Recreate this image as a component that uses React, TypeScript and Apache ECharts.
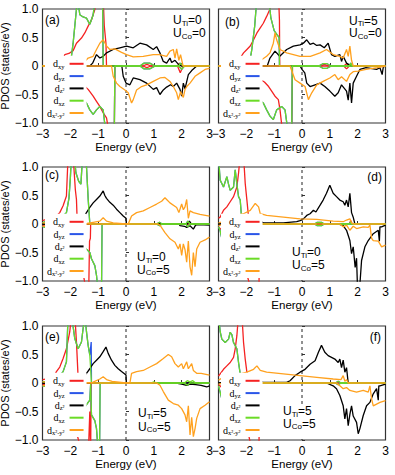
import React, { useEffect, useRef } from 'react';
import * as echarts from 'echarts';

// ---------- data: [energy (eV), PDOS (states/eV)] ----------
// panel (a)  U_Ti=0, U_Co=0
const A_DXY_UP = [[-3,0],[-2.32,0],[-2.2,0.2],[-2.05,0.22],[-1.9,0.27],[-1.78,0.4],[-1.6,0.49],[-1.48,0.58],[-1.36,0.7],[-1.24,0.81],[-1.12,0.99],[-1.05,1.2],[-0.82,1.2],[-0.78,0.7],[-0.72,0.4],[-0.7,0],[0.6,0],[0.75,0.03],[0.9,0],[1.85,0],[1.92,0.05],[2.0,0],[3,0]];
const A_DXY_DN = [[-3,0],[-1.98,0],[-1.9,-0.18],[-1.7,-0.24],[-1.54,-0.33],[-1.36,-0.41],[-1.18,-0.53],[-1.06,-0.62],[-0.94,-0.71],[-0.82,-0.82],[-0.7,-0.91],[-0.6,-1.2],[-0.42,-1.2],[-0.4,0],[0.6,0],[0.75,-0.03],[0.9,0],[1.85,0],[1.95,-0.12],[2.05,0],[3,0]];
const A_DXZ_UP = [[-3,0],[-2.0,0],[-1.96,0.17],[-1.9,0.4],[-1.84,0.7],[-1.78,1.0],[-1.74,1.2],[-1.66,0.9],[-1.54,0.86],[-1.42,0.84],[-1.3,0.73],[-1.18,0.9],[-1.1,1.2],[-0.84,1.2],[-0.82,0],[0.5,0],[0.65,0.05],[0.85,0.05],[1.05,0],[1.9,0],[1.95,0.05],[2.05,0],[3,0]];
const A_DXZ_DN = [[-3,0],[-2.0,0],[-1.94,-0.24],[-1.84,-0.41],[-1.7,-0.53],[-1.54,-0.59],[-1.42,-0.65],[-1.3,-0.77],[-1.18,-0.85],[-1.06,-0.77],[-0.94,-0.71],[-0.82,-0.77],[-0.72,-1.2],[-0.42,-1.2],[-0.4,0],[0.5,0],[0.65,-0.05],[0.85,-0.05],[1.05,0],[1.9,0],[2.0,-0.06],[2.1,0],[3,0]];
const A_DZ2_UP = [[-3,0],[-1.3,0],[-1.2,0.05],[-1.06,0.2],[-0.94,0.14],[-0.82,0.17],[-0.7,0.23],[-0.46,0.29],[-0.22,0.32],[0.02,0.35],[0.26,0.32],[0.5,0.4],[0.74,0.37],[0.98,0.29],[1.1,0.34],[1.22,0.23],[1.34,0.08],[1.46,0.05],[1.58,0.14],[1.64,0.06],[1.76,0.1],[1.9,0.02],[2.0,0],[3,0]];
const A_DZ2_DN = [[-3,0],[-0.15,0],[-0.1,-0.18],[0,-0.3],[0.14,-0.33],[0.26,-0.21],[0.5,-0.24],[0.74,-0.3],[0.98,-0.41],[1.1,-0.38],[1.22,-0.5],[1.34,-0.42],[1.46,-0.37],[1.6,-0.33],[1.7,-0.36],[1.82,-0.3],[1.94,-0.41],[2.0,-0.53],[2.06,-0.3],[2.12,-0.4],[2.24,-0.15],[2.36,-0.08],[2.54,0],[3,0]];
const A_DX2_UP = [[-3,0],[-1.6,0],[-1.48,0.08],[-1.36,0.14],[-1.18,0.17],[-1.06,0.29],[-0.94,0.4],[-0.82,0.46],[-0.7,0.35],[-0.58,0.29],[-0.4,0.3],[-0.16,0.24],[0.02,0.2],[0.26,0.16],[0.62,0.17],[0.98,0.2],[1.2,0.2],[1.46,0.17],[1.58,0.26],[1.7,0.29],[1.76,0.14],[1.82,0.3],[1.9,0.1],[1.96,0.2],[2.05,0],[3,0]];
const A_DX2_DN = [[-3,0],[-0.52,0],[-0.46,-0.18],[-0.34,-0.3],[-0.22,-0.36],[-0.04,-0.42],[0.08,-0.47],[0.2,-0.65],[0.26,-0.59],[0.38,-0.42],[0.56,-0.36],[0.74,-0.33],[0.98,-0.27],[1.22,-0.21],[1.4,-0.2],[1.58,-0.27],[1.7,-0.36],[1.82,-0.47],[1.88,-0.59],[1.96,-0.45],[2.06,-0.55],[2.12,-0.41],[2.2,-0.35],[2.3,-0.3],[2.48,-0.18],[2.66,-0.12],[2.84,-0.06],[3,-0.04]];

// panel (b)  U_Ti=5, U_Co=0
const B_DXY_UP = [[-3,0],[-2.34,0],[-2.22,0.14],[-2.1,0.23],[-1.98,0.29],[-1.86,0.35],[-1.74,0.46],[-1.62,0.58],[-1.5,0.67],[-1.39,0.75],[-1.27,0.87],[-1.15,1.0],[-1.1,1.2],[-0.84,1.2],[-0.81,0.8],[-0.8,0],[0.7,0],[0.8,0.03],[0.95,0],[1.5,0],[1.6,0.04],[1.7,0],[3,0]];
const B_DXY_DN = [[-3,0],[-1.86,0],[-1.8,-0.1],[-1.74,-0.15],[-1.5,-0.24],[-1.35,-0.28],[-1.2,-0.36],[-1.09,-0.44],[-0.97,-0.53],[-0.85,-0.59],[-0.79,-0.77],[-0.69,-1.2],[-0.37,-1.2],[-0.34,0],[1.5,0],[1.6,-0.05],[1.7,0],[3,0]];
const B_DXZ_UP = [[-3,0],[-1.9,0],[-1.8,0.3],[-1.7,0.7],[-1.62,1.2],[-1.2,1.2],[-1.12,0.85],[-1.0,0.62],[-0.9,0.55],[-0.82,0.5],[-0.81,0],[0.6,0],[0.75,0.04],[0.9,0.04],[1.05,0],[1.7,0],[1.75,0.05],[1.8,0],[3,0]];
const B_DXZ_DN = [[-3,0],[-1.98,0],[-1.92,-0.24],[-1.86,-0.41],[-1.74,-0.53],[-1.57,-0.59],[-1.39,-0.65],[-1.27,-0.77],[-1.15,-0.88],[-1.03,-0.94],[-0.91,-0.77],[-0.73,-0.71],[-0.61,-0.77],[-0.49,-1.2],[-0.37,-1.2],[-0.35,0],[0.6,0],[0.75,-0.04],[0.9,-0.04],[1.05,0],[3,0]];
const B_DZ2_UP = [[-3,0],[-1.25,0],[-1.15,0.14],[-0.97,0.26],[-0.8,0.17],[-0.55,0.29],[-0.31,0.35],[-0.07,0.37],[0.05,0.4],[0.17,0.46],[0.29,0.38],[0.41,0.4],[0.53,0.36],[0.65,0.37],[0.8,0.32],[0.94,0.4],[1.06,0.2],[1.18,0.17],[1.36,0.2],[1.42,0.08],[1.48,0.17],[1.6,0.05],[1.7,0.02],[1.8,0],[3,0]];
const B_DZ2_DN = [[-3,0],[-0.07,0],[0,-0.06],[0.1,-0.12],[0.17,-0.3],[0.29,-0.36],[0.47,-0.33],[0.65,-0.3],[0.82,-0.36],[1.0,-0.44],[1.18,-0.53],[1.3,-0.47],[1.42,-0.33],[1.6,-0.44],[1.66,-0.6],[1.72,-0.3],[1.78,-0.65],[1.84,-0.3],[1.96,-0.18],[2.08,-0.06],[2.3,-0.03],[2.68,-0.06],[2.8,-0.03],[2.88,-0.15],[2.92,-0.02],[3,0]];
const B_DX2_UP = [[-3,0],[-1.57,0],[-1.45,0.11],[-1.27,0.17],[-1.15,0.23],[-1.03,0.4],[-0.97,0.58],[-0.91,0.46],[-0.79,0.29],[-0.55,0.23],[-0.31,0.2],[-0.07,0.17],[0.3,0.17],[0.65,0.23],[0.88,0.29],[1.12,0.2],[1.36,0.17],[1.48,0.14],[1.6,0.29],[1.66,0.17],[1.72,0.35],[1.78,0.1],[1.84,0],[3,0]];
const B_DX2_DN = [[-3,0],[-0.43,0],[-0.25,-0.24],[-0.07,-0.3],[0.11,-0.36],[0.23,-0.59],[0.35,-0.47],[0.53,-0.33],[0.76,-0.27],[1.0,-0.21],[1.18,-0.15],[1.3,-0.24],[1.42,-0.19],[1.6,-0.27],[1.72,-0.15],[1.84,-0.1],[2.02,-0.09],[2.3,-0.06],[2.7,-0.03],[3,0]];

// panel (c)  U_Ti=0, U_Co=5
const C_DXY_UP = [[-3,0.06],[-2.86,0.08],[-2.62,0.05],[-2.5,0.14],[-2.38,0.2],[-2.26,0.32],[-2.14,0.49],[-2.08,1.2],[-1.9,1.2],[-1.82,0.6],[-1.78,0.43],[-1.75,0],[3,0]];
const C_DXY_DN = [[-3,-0.02],[-2.8,-0.06],[-2.62,-0.15],[-2.5,-0.18],[-2.38,-0.2],[-2.3,-0.22],[-2.2,-0.35],[-2.0,-0.5],[-1.6,-0.7],[-1.42,-1.2],[-1.34,-1.2],[-1.31,-0.3],[-1.28,-0.25],[-1.27,0],[3,0]];
const C_DXZ_UP = [[-3,0.02],[-2.74,0.08],[-2.5,0.08],[-2.26,0.14],[-2.14,0.2],[-2.05,0.45],[-2.0,0.8],[-1.96,1.2],[-1.86,1.2],[-1.8,0.9],[-1.7,0.75],[-1.62,0.7],[-1.56,1.2],[-1.44,1.2],[-1.36,0.45],[-1.3,0],[1.1,0],[1.2,0.03],[1.3,0],[2.15,0],[2.22,0.05],[2.3,0],[3,0]];
const C_DXZ_DN = [[-3,-0.04],[-2.8,-0.08],[-2.5,-0.1],[-2.2,-0.15],[-1.95,-0.2],[-1.8,-0.05],[-1.78,-0.25],[-1.6,-0.35],[-1.4,-0.45],[-1.3,-0.5],[-1.24,-0.61],[-1.12,-0.73],[-1.06,-0.9],[-1.0,-1.2],[-0.88,-1.2],[-0.86,0],[1.1,0],[1.2,-0.03],[1.3,0],[2.15,0],[2.22,-0.05],[2.3,0],[3,0]];
const C_DZ2_UP = [[-3,0],[-1.9,0],[-1.78,0.02],[-1.66,0.05],[-1.54,0.11],[-1.42,0.2],[-1.3,0.29],[-1.18,0.37],[-1.06,0.43],[-0.94,0.49],[-0.82,0.58],[-0.76,0.5],[-0.7,0.45],[-0.58,0.38],[-0.46,0.33],[-0.34,0.26],[-0.22,0.2],[-0.1,0.14],[0,0.1],[0.01,0],[2.2,0],[2.28,0.05],[2.35,0],[3,0]];
const C_DZ2_DN = [[-3,0],[1.9,0],[1.94,-0.03],[2.1,-0.04],[2.18,-0.06],[2.3,-0.03],[2.42,-0.09],[2.5,-0.02],[2.6,-0.01],[3,-0.02]];
const C_DX2_UP = [[-3,0.02],[-2.5,0],[-1.4,0.01],[-1.18,0.03],[-0.94,0.05],[-0.82,0.11],[-0.7,0.05],[-0.46,0.02],[0,0],[0.08,0],[0.2,0.14],[0.38,0.2],[0.62,0.23],[0.86,0.29],[1.1,0.35],[1.28,0.4],[1.4,0.46],[1.46,0.43],[1.58,0.37],[1.82,0.29],[1.9,0.2],[2.0,0.35],[2.06,0.25],[2.12,0.3],[2.18,0.43],[2.24,0.1],[2.3,0.23],[2.42,0.2],[2.66,0.17],[3,0.14]];
const C_DX2_DN = [[-3,-0.04],[-2.7,-0.02],[-2.5,0],[1.15,0],[1.22,-0.02],[1.4,-0.15],[1.58,-0.26],[1.76,-0.32],[1.88,-0.44],[1.94,-0.35],[2.0,-0.55],[2.06,-0.35],[2.12,-0.45],[2.18,-0.67],[2.24,-0.3],[2.3,-0.75],[2.36,-0.9],[2.42,-0.5],[2.48,-0.75],[2.54,-0.44],[2.66,-0.32],[2.84,-0.28],[3,-0.23]];

// panel (d)  U_Ti=0, U_Co=5
const D_DXY_UP = [[-3,0.1],[-2.94,0.12],[-2.82,0.24],[-2.7,0.3],[-2.58,0.39],[-2.46,0.48],[-2.34,0.65],[-2.28,0.89],[-2.22,1.2],[-2.1,1.2],[-2.04,0.71],[-1.98,0.42],[-1.92,0.12],[-1.86,0],[1.7,0],[1.75,0.06],[1.8,0],[3,0]];
const D_DXY_DN = [[-3,-0.05],[-2.9,-0.1],[-2.8,-0.15],[-2.7,-0.2],[-2.6,-0.25],[-2.5,-0.3],[-2.2,-0.5],[-1.8,-1.2],[-1.55,-1.2],[-1.52,-0.3],[-1.5,0],[3,0]];
const D_DXZ_UP = [[-3,1.2],[-2.96,0.9],[-2.94,0.77],[-2.82,0.65],[-2.7,0.83],[-2.64,0.7],[-2.58,0.59],[-2.46,0.65],[-2.4,0.95],[-2.34,0.7],[-2.28,0.48],[-2.22,0.42],[-2.17,0.1],[-2.16,0],[0.45,0],[0.55,0.03],[0.7,0.03],[0.8,0],[1.7,0],[1.75,0.04],[1.8,0],[3,0]];
const D_DXZ_DN = [[-3,-0.05],[-2.94,-0.12],[-2.88,-0.25],[-2.8,-0.4],[-2.5,-0.6],[-2.1,-0.75],[-1.8,-0.8],[-1.76,-0.3],[-1.74,0],[0.45,0],[0.55,-0.03],[0.7,-0.03],[0.8,0],[3,0]];
const D_DZ2_UP = [[-3,0],[-1.98,0],[-1.86,0.03],[-1.74,0.05],[-1.62,0.08],[-1.5,0.05],[-1.39,0.02],[-1.27,0.02],[-0.67,0.02],[-0.19,0.04],[-0.07,0.06],[0.05,0.09],[0.17,0.15],[0.29,0.18],[0.41,0.24],[0.5,0.21],[0.65,0.33],[0.76,0.42],[0.88,0.54],[1.0,0.68],[1.12,0.54],[1.24,0.48],[1.36,0.42],[1.48,0.39],[1.54,0.33],[1.6,0.42],[1.66,0.3],[1.72,0.54],[1.78,0.2],[1.84,0.12],[1.9,0],[3,0]];
const D_DZ2_DN = [[-3,0],[1.3,0],[1.48,-0.03],[1.6,-0.11],[1.72,-0.29],[1.78,-0.52],[1.84,-0.4],[1.91,-0.76],[1.96,-0.6],[2.0,-1.2],[2.06,-1.2],[2.14,-0.64],[2.26,-0.4],[2.38,-0.29],[2.56,-0.17],[2.74,-0.11],[2.78,-0.3],[2.8,-0.05],[2.86,-0.05],[3,-0.02]];
const D_DX2_UP = [[-3,0.02],[-2.82,0.04],[-2.58,0.09],[-2.34,0.15],[-2.1,0.18],[-1.86,0.24],[-1.68,0.36],[-1.56,0.3],[-1.5,0.18],[-1.27,0.15],[-0.67,0.12],[-0.07,0.09],[0.53,0.08],[1.12,0.05],[1.48,0.04],[1.6,0.07],[1.72,0.09],[1.78,0.02],[1.84,0],[3,0]];
const D_DX2_DN = [[-3,-0.03],[-2.8,0],[1.36,0],[1.48,-0.05],[1.6,-0.02],[1.72,-0.11],[1.84,-0.04],[1.96,-0.08],[2.2,-0.05],[2.38,-0.06],[2.44,-0.02],[2.5,-0.25],[2.56,-0.29],[2.74,-0.3],[2.86,-0.4],[3,-0.37]];

// panel (e)  U_Ti=5, U_Co=5
const E_DXY_UP = [[-3,0.06],[-2.74,0.08],[-2.62,0.08],[-2.5,0.2],[-2.38,0.28],[-2.26,0.43],[-2.14,0.6],[-2.02,0.9],[-1.96,1.2],[-1.84,1.2],[-1.78,0.72],[-1.73,0.2],[-1.72,0],[3,0]];
const E_DXY_DN = [[-3,-0.02],[-2.7,-0.05],[-2.5,-0.1],[-2.3,-0.2],[-2.2,-0.25],[-2.0,-0.45],[-1.6,-1.2],[-1.35,-1.2],[-1.3,-0.5],[-1.27,-1.2],[-1.25,0],[3,0]];
const E_DYZ_UP = [[-3,0.02],[-2.5,0.05],[-2.26,0.2],[-2.14,0.37],[-2.08,1.2],[-1.96,1.2],[-1.84,0.78],[-1.72,0.6],[-1.6,0.72],[-1.48,1.2],[-1.42,0.9],[-1.36,0.66],[-1.3,0.49],[-1.25,0.72],[-1.24,0],[3,0]];
const E_DXZ_UP = [[-3,0.02],[-2.5,0.05],[-2.26,0.2],[-2.14,0.37],[-2.08,1.2],[-1.96,1.2],[-1.84,0.78],[-1.72,0.6],[-1.6,0.72],[-1.48,1.2],[-1.42,0.9],[-1.36,0.66],[-1.3,0.49],[-1.24,0],[0.9,0],[1.0,0.02],[1.1,0],[2.1,0],[2.2,0.04],[2.3,0.02],[2.4,0.04],[2.5,0],[3,0]];
const E_DXZ_DN = [[-3,-0.05],[-2.6,-0.08],[-2.3,-0.12],[-2.1,-0.18],[-1.95,-0.25],[-1.9,-0.4],[-1.6,-0.5],[-1.3,-0.3],[-1.27,-0.02],[-1.24,-0.56],[-1.12,-0.66],[-1.06,-0.8],[-1.0,-1.2],[-0.95,-1.2],[-0.93,0],[2.1,0],[2.2,-0.04],[2.3,0],[3,0]];
const E_DZ2_UP = [[-3,0],[-1.9,0],[-1.78,0.02],[-1.66,0.05],[-1.54,0.11],[-1.42,0.17],[-1.3,0.25],[-1.18,0.34],[-1.06,0.4],[-0.94,0.46],[-0.82,0.55],[-0.72,0.63],[-0.64,0.52],[-0.52,0.4],[-0.4,0.31],[-0.28,0.25],[-0.16,0.2],[0,0.14],[0.01,0],[3,0]];
const E_DZ2_DN = [[-3,0],[1.8,0],[2.0,-0.02],[2.18,-0.04],[2.3,-0.02],[2.5,-0.03],[2.7,-0.04],[2.9,-0.07],[3,-0.05]];
const E_DX2_UP = [[-3,0.02],[-2.5,0],[-1.2,0.01],[-0.94,0.07],[-0.82,0.11],[-0.7,0.06],[-0.5,0.03],[0,0],[0.14,0],[0.2,0.17],[0.38,0.2],[0.62,0.22],[0.86,0.28],[1.1,0.34],[1.34,0.43],[1.52,0.5],[1.64,0.46],[1.76,0.34],[1.88,0.28],[2.0,0.34],[2.06,0.25],[2.18,0.37],[2.24,0.25],[2.36,0.34],[2.42,0.22],[2.54,0.17],[2.7,0.17],[3,0.14]];
const E_DX2_DN = [[-3,-0.05],[-2.7,-0.02],[-2.5,0],[1.1,0],[1.22,-0.04],[1.34,-0.15],[1.52,-0.3],[1.7,-0.36],[1.88,-0.39],[2.0,-0.45],[2.12,-0.56],[2.18,-0.68],[2.24,-0.4],[2.3,-0.91],[2.36,-0.6],[2.42,-0.94],[2.48,-0.8],[2.54,-0.62],[2.66,-0.45],[2.84,-0.39],[3,-0.33]];

// panel (f)  U_Ti=5, U_Co=5
const F_DXY_UP = [[-3,0.12],[-2.94,0.16],[-2.82,0.24],[-2.7,0.3],[-2.58,0.36],[-2.46,0.45],[-2.4,0.6],[-2.34,0.83],[-2.28,1.2],[-2.16,1.2],[-2.1,0.71],[-2.04,0.42],[-1.98,0.19],[-1.92,0],[3,0]];
const F_DXY_DN = [[-3,-0.03],[-2.94,-0.05],[-2.82,-0.12],[-2.7,-0.19],[-2.58,-0.22],[-2.46,-0.25],[-2.3,-0.4],[-2.0,-0.7],[-1.8,-1.2],[-1.55,-1.2],[-1.52,-0.3],[-1.5,0],[3,0]];
const F_DXZ_UP = [[-3,1.2],[-2.94,0.9],[-2.88,0.77],[-2.76,0.71],[-2.64,0.77],[-2.58,0.89],[-2.52,0.85],[-2.46,0.71],[-2.34,0.6],[-2.28,0.36],[-2.22,0.16],[-2.2,0],[1.2,0],[1.3,0.03],[1.4,0],[3,0]];
const F_DXZ_DN = [[-3,-0.05],[-2.94,-0.16],[-2.88,-0.28],[-2.82,-0.4],[-2.7,-0.5],[-2.2,-0.7],[-1.8,-0.8],[-1.78,-0.3],[-1.77,0],[1.2,0],[1.3,-0.03],[1.4,0],[3,0]];
const F_DZ2_UP = [[-3,0],[-1.92,0],[-1.86,0.04],[-1.74,0.07],[-1.62,0.04],[-1.39,0.01],[-0.55,0.01],[-0.43,0.04],[-0.25,0.13],[-0.07,0.19],[0.11,0.24],[0.29,0.33],[0.47,0.39],[0.59,0.54],[0.7,0.66],[0.82,0.54],[0.94,0.48],[1.06,0.45],[1.18,0.42],[1.3,0.36],[1.36,0.42],[1.42,0.27],[1.48,0.4],[1.54,0.19],[1.6,0.27],[1.66,0],[3,0]];
const F_DZ2_DN = [[-3,0],[0.88,0],[1.12,-0.05],[1.24,-0.1],[1.36,-0.22],[1.48,-0.4],[1.54,-0.63],[1.6,-0.45],[1.66,-0.75],[1.72,-0.55],[1.78,-0.4],[1.84,-0.58],[1.96,-0.69],[2.02,-0.89],[2.08,-0.8],[2.2,-0.57],[2.32,-0.4],[2.44,-0.34],[2.56,-0.19],[2.68,-0.1],[2.74,-0.3],[2.76,-0.05],[2.8,-0.05],[3,-0.02]];
const F_DX2_UP = [[-3,0.05],[-2.82,0.1],[-2.58,0.13],[-2.22,0.16],[-1.98,0.19],[-1.74,0.24],[-1.62,0.3],[-1.5,0.22],[-1.27,0.19],[-0.67,0.16],[-0.07,0.13],[0.53,0.1],[1.12,0.07],[1.4,0.06],[1.48,0.13],[1.54,0.03],[1.6,0.06],[1.66,0],[3,0]];
const F_DX2_DN = [[-3,-0.02],[-2.8,0],[1.24,0],[1.36,-0.05],[1.48,-0.1],[1.6,-0.08],[1.72,-0.13],[1.96,-0.16],[2.2,-0.13],[2.38,-0.16],[2.44,-0.05],[2.5,-0.28],[2.56,-0.4],[2.68,-0.37],[2.8,-0.34],[3,-0.31]];

// ---------- labels ----------
const ORBITALS = ['dxy', 'dyz', 'dz2', 'dxz', 'dx2y2'];
const ORBITAL_LABELS: Record<string, string> = {
  dxy: '{d|d}{s|xy}',
  dyz: '{d|d}{s|yz}',
  dz2: '{d|d}{s|z²}',
  dxz: '{d|d}{s|xz}',
  dx2y2: '{d|d}{s|x²-y²}',
};
const PANEL_LETTERS = ['(a)', '(b)', '(c)', '(d)', '(e)', '(f)'];
const U_TI = ['0', '5', '0', '0', '5', '5'];
const U_CO = ['0', '0', '5', '5', '5', '5'];
const X_TITLE = 'Energy (eV)';
const Y_TITLE = 'PDOS (states/eV)';

// per panel, per orbital: [spin up, spin down]
const PANEL_DATA: Record<string, number[][][]>[] = [
  { dxy: [A_DXY_UP, A_DXY_DN], dyz: [A_DXZ_UP, A_DXZ_DN], dz2: [A_DZ2_UP, A_DZ2_DN], dxz: [A_DXZ_UP, A_DXZ_DN], dx2y2: [A_DX2_UP, A_DX2_DN] },
  { dxy: [B_DXY_UP, B_DXY_DN], dyz: [B_DXZ_UP, B_DXZ_DN], dz2: [B_DZ2_UP, B_DZ2_DN], dxz: [B_DXZ_UP, B_DXZ_DN], dx2y2: [B_DX2_UP, B_DX2_DN] },
  { dxy: [C_DXY_UP, C_DXY_DN], dyz: [C_DXZ_UP, C_DXZ_DN], dz2: [C_DZ2_UP, C_DZ2_DN], dxz: [C_DXZ_UP, C_DXZ_DN], dx2y2: [C_DX2_UP, C_DX2_DN] },
  { dxy: [D_DXY_UP, D_DXY_DN], dyz: [D_DXZ_UP, D_DXZ_DN], dz2: [D_DZ2_UP, D_DZ2_DN], dxz: [D_DXZ_UP, D_DXZ_DN], dx2y2: [D_DX2_UP, D_DX2_DN] },
  { dxy: [E_DXY_UP, E_DXY_DN], dyz: [E_DYZ_UP, E_DXZ_DN], dz2: [E_DZ2_UP, E_DZ2_DN], dxz: [E_DXZ_UP, E_DXZ_DN], dx2y2: [E_DX2_UP, E_DX2_DN] },
  { dxy: [F_DXY_UP, F_DXY_DN], dyz: [F_DXZ_UP, F_DXZ_DN], dz2: [F_DZ2_UP, F_DZ2_DN], dxz: [F_DXZ_UP, F_DXZ_DN], dx2y2: [F_DX2_UP, F_DX2_DN] },
];

// ---------- styles / layout ----------
const COLORS: Record<string, string> = {
  dxy: '#f52222',
  dyz: '#2a55e8',
  dz2: '#000000',
  dxz: '#6bdb26',
  dx2y2: '#ffa11e',
};
const W = 395;
const H = 475;
const COL_LEFT = [42.5, 218.5];
const ROW_TOP = [9, 167, 326];
const GW = 167;
const GH = 114;
const SANS = '"Liberation Sans", Arial, Helvetica, sans-serif';
const SERIF = '"Liberation Serif", "Times New Roman", serif';
// panel letter anchor [x, y, align]
const LETTER_POS: [number, number, string][] = [
  [45, 20, 'left'], [225, 21.5, 'left'], [45, 175, 'left'],
  [382, 176.5, 'right'], [45, 336.5, 'left'], [381, 336.5, 'right'],
];
// U label anchor [x, yTi, yCo]
const U_POS: [number, number, number][] = [
  [173, 20, 33], [349, 20.5, 33], [137, 257, 269.5],
  [292, 252, 265], [138, 413, 426.5], [283, 411, 423.5],
];
// panels where the U labels sit on an opaque box reaching the frame bottom
const U_BOX = [false, false, false, true, false, true];

const minus = (s: string) => s.replace('-', '\u2212');

function buildOption() {
  const grid: any[] = [];
  const xAxis: any[] = [];
  const yAxis: any[] = [];
  const series: any[] = [];
  const legend: any[] = [];
  const graphic: any[] = [];

  for (let p = 0; p < 6; p++) {
    const col = p % 2;
    const row = Math.floor(p / 2);
    const left = COL_LEFT[col];
    const top = ROW_TOP[row];
    grid.push({
      left, top, width: GW, height: GH,
      show: true, borderColor: '#333', borderWidth: 1.2,
      backgroundColor: 'transparent', containLabel: false, outerBoundsMode: 'none',
    });
    xAxis.push({
      type: 'value', gridIndex: p, min: -3, max: 3, interval: 1,
      axisLine: { show: false },
      axisTick: { show: true, inside: true, length: 3, lineStyle: { color: '#333', width: 1 } },
      splitLine: { show: false },
      axisLabel: {
        show: true, color: '#000', fontFamily: SANS, fontSize: 12, margin: 5,
        showMinLabel: true, showMaxLabel: true, hideOverlap: false,
        formatter: (v: number) => minus(String(v)),
      },
      name: X_TITLE, nameLocation: 'middle', nameGap: 18,
      nameTextStyle: { color: '#000', fontFamily: SANS, fontSize: 11.5 },
    });
    yAxis.push({
      type: 'value', gridIndex: p, min: -1, max: 1, interval: 0.5,
      axisLine: { show: false },
      axisTick: { show: true, inside: true, length: 3, lineStyle: { color: '#333', width: 1 } },
      splitLine: { show: false },
      axisLabel: {
        show: col === 0, color: '#000', fontFamily: SANS, fontSize: 12, margin: 4,
        formatter: (v: number) => (v === 0 ? '0' : minus(v.toFixed(1))),
      },
      name: col === 0 ? Y_TITLE : '', nameLocation: 'middle', nameGap: 21,
      nameTextStyle: { color: '#000', fontFamily: SANS, fontSize: 11 },
    });

    // Fermi level
    series.push({
      type: 'line', name: 'EF', xAxisIndex: p, yAxisIndex: p,
      data: [[0, -1], [0, 1]], symbol: 'none', silent: true,
      lineStyle: { color: '#222', width: 1, type: [3, 3] }, z: 1,
    });
    const pd = PANEL_DATA[p];
    ORBITALS.forEach((o) => {
      pd[o].forEach((curve) => {
        series.push({
          type: 'line', name: o, xAxisIndex: p, yAxisIndex: p,
          data: curve, symbol: 'none', showSymbol: false, clip: true, silent: true,
          lineStyle: { color: COLORS[o], width: 1.3 },
          itemStyle: { color: COLORS[o] },
          z: 2,
        });
      });
    });

    legend.push({
      show: true, data: ORBITALS, orient: 'vertical', align: 'right',
      left: left + 2.5, bottom: H - (top + GH) + 3,
      itemWidth: 14, itemHeight: 2, itemGap: 0.3, icon: 'rect',
      backgroundColor: '#fff', padding: [2, 3, 1, 2], selectedMode: false,
      formatter: (n: string) => ORBITAL_LABELS[n],
      textStyle: {
        color: '#000', fontFamily: SERIF, fontSize: 10, lineHeight: 9,
        rich: {
          d: { fontFamily: SERIF, fontSize: 10, lineHeight: 9, color: '#000' },
          s: { fontFamily: SERIF, fontSize: 6.5, lineHeight: 9, padding: [5, 0, 0, 0], color: '#000' },
        },
      },
    });

    const lp = LETTER_POS[p];
    graphic.push({
      type: 'text', x: lp[0], y: lp[1], silent: true, z: 10,
      style: {
        text: PANEL_LETTERS[p], fill: '#000', font: `12px ${SANS}`,
        align: lp[2], textAlign: lp[2], verticalAlign: 'middle', textVerticalAlign: 'middle',
      },
    });
    const up = U_POS[p];
    if (U_BOX[p]) {
      graphic.push({
        type: 'rect', silent: true, z: 9,
        shape: { x: up[0] - 2, y: up[1] - 7, width: 30, height: top + GH - 1 - (up[1] - 7) },
        style: { fill: '#fff' },
      });
    }
    const uRich = { s: { fontSize: 8, fontFamily: SANS, lineHeight: 13, padding: [6, 0, 0, 0], fill: '#000', color: '#000' } };
    graphic.push({
      type: 'text', x: up[0], y: up[1], silent: true, z: 10,
      style: {
        text: `U{s|Ti}=${U_TI[p]}`, fill: '#000', font: `12px ${SANS}`, lineHeight: 13,
        align: 'left', textAlign: 'left', verticalAlign: 'middle', textVerticalAlign: 'middle', rich: uRich,
      },
    });
    graphic.push({
      type: 'text', x: up[0], y: up[2], silent: true, z: 10,
      style: {
        text: `U{s|Co}=${U_CO[p]}`, fill: '#000', font: `12px ${SANS}`, lineHeight: 13,
        align: 'left', textAlign: 'left', verticalAlign: 'middle', textVerticalAlign: 'middle', rich: uRich,
      },
    });
  }

  return {
    animation: false,
    backgroundColor: '#fff',
    grid, xAxis, yAxis, series, legend, graphic,
  };
}

export default function App() {
  const ref = useRef<HTMLDivElement>(null);
  useEffect(() => {
    if (!ref.current) return;
    const chart = echarts.init(ref.current, null, { renderer: 'svg' });
    chart.setOption(buildOption() as any);
    return () => chart.dispose();
  }, []);
  return (
    <div
      ref={ref}
      style={{ position: 'absolute', left: 0, top: 0, width: W, height: H, background: '#fff' }}
    />
  );
}
